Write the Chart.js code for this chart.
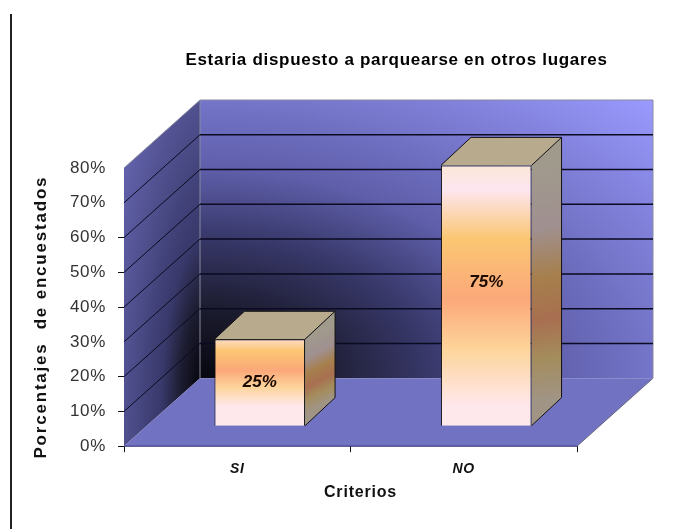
<!DOCTYPE html>
<html>
<head>
<meta charset="utf-8">
<style>
  html, body { margin: 0; background: #fff; }
  #wrap { position: relative; width: 680px; height: 529px; overflow: hidden; }
  #chart { filter: blur(0.6px); }
  #rule { position: absolute; left: 10px; top: 14px; bottom: 0; width: 2px; background: #222; }
</style>
<script src="https://cdn.jsdelivr.net/npm/chart.js@4"></script>
</head>
<body>
<div id="wrap">
  <canvas id="chart" width="680" height="529"></canvas>
  <div id="rule"></div>
</div>
<script>
const categories = ['SI', 'NO'];
const percentages = [25, 75];
const tickLabels = ['0%', '10%', '20%', '30%', '40%', '50%', '60%', '70%', '80%'];
const chartTitle = 'Estaria dispuesto a parquearse en otros lugares';
const yTitle = 'Porcentajes  de encuestados';
const xTitle = 'Criterios';

// box depth of the fake 3D scene
const wallDepth = { x: 76, y: -68 };
const barShift = { x: 22.5, y: -20 };
const barDepth = { x: 30, y: -28 };
// these tick marks are lost in the original
const noTickMark = [30, 70, 80];
// the NO label sits above the middle of its bar in the original
const labelLift = [0, 13];

const polygon = (ctx, pts, fill) => {
  ctx.beginPath();
  pts.forEach((p, i) => i ? ctx.lineTo(p[0], p[1]) : ctx.moveTo(p[0], p[1]));
  ctx.closePath();
  ctx.fillStyle = fill;
  ctx.fill();
};

const gradient = (ctx, x0, y0, x1, y1, stops) => {
  const g = ctx.createLinearGradient(x0, y0, x1, y1);
  stops.forEach(s => g.addColorStop(s[0], s[1]));
  return g;
};

// corner gradient from the dark back corner, filled in a unit square
const cornerFill = (ctx, m, stops) => {
  const g = ctx.createRadialGradient(0, 0, 0, 0, 0, Math.SQRT2);
  stops.forEach(s => g.addColorStop(s[0], s[1]));
  ctx.save();
  ctx.transform(m[0], m[1], m[2], m[3], m[4], m[5]);
  polygon(ctx, [[0, 0], [1, 0], [1, 1], [0, 1]], g);
  ctx.restore();
};

// walls, floor and gridlines
const scenePlugin = {
  id: 'scene',
  beforeDraw(chart) {
    chart.ctx.letterSpacing = '0.7px';
  },
  beforeDatasetsDraw(chart) {
    const { ctx, chartArea: a, scales: { y } } = chart;
    const dx = wallDepth.x, dy = wallDepth.y;
    const base = y.getPixelForValue(0);
    const top = y.getPixelForValue(80);
    const cornerX = a.left + dx, cornerY = base + dy;
    ctx.save();
    // back wall
    cornerFill(ctx, [a.right - a.left, 0, 0, top - base, cornerX, cornerY],
      [[0, '#07070f'], [0.18, '#1c1c30'], [0.36, '#38386a'], [0.53, '#5e5eaa'], [0.7, '#7474c8'], [1, '#9a9aff']]);
    // left wall
    cornerFill(ctx, [-dx, -dy, 0, top - base, cornerX, cornerY],
      [[0, '#07070f'], [0.18, '#1c1c30'], [0.36, '#38386a'], [0.7, '#50508f'], [1, '#6262ac']]);
    // wall edges
    ctx.strokeStyle = '#8a8aa0';
    ctx.lineWidth = 1;
    ctx.beginPath();
    ctx.moveTo(a.left, top);
    ctx.lineTo(a.left + dx, top + dy);
    ctx.lineTo(a.right + dx, top + dy);
    ctx.lineTo(a.right + dx, base + dy);
    ctx.moveTo(a.left + dx, top + dy);
    ctx.lineTo(a.left + dx, base + dy);
    ctx.stroke();
    // gridlines run along the left wall then the back wall
    y.ticks.forEach(t => {
      if (t.value === 0 || t.value === 80) return;
      const py = y.getPixelForValue(t.value);
      ctx.strokeStyle = '#0a0a20';
      ctx.lineWidth = 1;
      ctx.beginPath();
      ctx.moveTo(a.left, py);
      ctx.lineTo(a.left + dx, py + dy);
      ctx.stroke();
      ctx.lineWidth = 1.5;
      ctx.beginPath();
      ctx.moveTo(a.left + dx, py + dy);
      ctx.lineTo(a.right + dx, py + dy);
      ctx.stroke();
    });
    // floor
    polygon(ctx, [[a.left, base], [a.right, base], [a.right + dx, base + dy], [a.left + dx, base + dy]], '#7272c2');
    ctx.strokeStyle = '#6a6a80';
    ctx.lineWidth = 1;
    ctx.beginPath();
    ctx.moveTo(a.right, base);
    ctx.lineTo(a.right + dx, base + dy);
    ctx.stroke();
    ctx.strokeStyle = '#2c2c70';
    ctx.beginPath();
    ctx.moveTo(a.left, base);
    ctx.lineTo(a.right, base);
    ctx.stroke();
    ctx.restore();
  },
  // side and top faces of each bar, then shift the front face into the scene
  beforeDatasetDraw(chart, args) {
    const ctx = chart.ctx;
    args.meta.data.forEach(bar => {
      const p = bar.getProps(['x', 'y', 'base', 'width'], true);
      const l = p.x - p.width / 2 + barShift.x;
      const r = p.x + p.width / 2 + barShift.x;
      const t = p.y + barShift.y;
      const b = p.base + barShift.y;
      const dx = barDepth.x, dy = barDepth.y;
      polygon(ctx, [[r, t], [r + dx, t + dy], [r + dx, b + dy], [r, b]],
        gradient(ctx, r, t, r + dx, b + dy, [[0, '#a09a8c'], [0.27, '#a09090'], [0.48, '#a67f4c'], [0.66, '#a86f50'], [0.82, '#a48c5c'], [1, '#a09484']]));
      polygon(ctx, [[l, t], [l + dx, t + dy], [r + dx, t + dy], [r, t]], '#b8aa8c');
      ctx.strokeStyle = '#111';
      ctx.lineWidth = 1;
      ctx.beginPath();
      ctx.moveTo(l, t);
      ctx.lineTo(l + dx, t + dy);
      ctx.lineTo(r + dx, t + dy);
      ctx.lineTo(r, t);
      ctx.moveTo(r + dx, t + dy);
      ctx.lineTo(r + dx, b + dy);
      ctx.lineTo(r, b);
      ctx.stroke();
    });
    ctx.save();
    ctx.translate(barShift.x, barShift.y);
  },
  afterDatasetDraw(chart, args) {
    const ctx = chart.ctx;
    ctx.restore();
    // value labels
    ctx.save();
    ctx.letterSpacing = '0px';
    ctx.font = 'italic bold 17px "Liberation Sans"';
    ctx.fillStyle = '#1a0a00';
    ctx.textAlign = 'center';
    ctx.textBaseline = 'middle';
    args.meta.data.forEach((bar, i) => {
      const p = bar.getProps(['x', 'y', 'base'], true);
      ctx.fillText(percentages[i] + '%', p.x + barShift.x, (p.y + p.base) / 2 + barShift.y - labelLift[i]);
    });
    ctx.restore();
  },
  // axis titles sit off centre in the original, so they are placed by hand
  afterDraw(chart) {
    const { ctx, chartArea: a } = chart;
    ctx.save();
    ctx.fillStyle = '#111';
    ctx.textAlign = 'center';
    ctx.textBaseline = 'middle';
    ctx.font = 'bold 16px "Liberation Sans"';
    ctx.letterSpacing = '0.8px';
    ctx.fillText(xTitle, (a.left + a.right) / 2 + 10, a.bottom + 46);
    ctx.font = 'bold 17px "Liberation Sans"';
    ctx.letterSpacing = '1.8px';
    ctx.translate(41, (a.top + a.bottom) / 2 + 10);
    ctx.rotate(-Math.PI / 2);
    ctx.fillText(yTitle, 0, 0);
    ctx.restore();
  },
  afterLayout(chart) {
    // the title is centred over the back wall, not the plot
    const box = chart.titleBlock;
    box.left += 108;
    box.right += 108;
  }
};

new Chart('chart', {
  type: 'bar',
  data: {
    labels: categories,
    datasets: [{
      data: percentages,
      barPercentage: 0.4,
      categoryPercentage: 1,
      clip: false,
      borderColor: '#111',
      borderWidth: 1,
      backgroundColor: c => {
        const { ctx, scales: { y } } = c.chart;
        const py = y ? y.getPixelForValue(c.raw) : NaN;
        if (!isFinite(py)) return '#fbc672';
        return gradient(ctx, 0, py + barShift.y, 0, y.getPixelForValue(0) + barShift.y,
          [[0, '#fbe9c4'], [0.17, '#fde6f0'], [0.36, '#fbc672'], [0.59, '#fba87a'], [0.78, '#fdd49a'], [1, '#ffe8ec']]);
      }
    }]
  },
  options: {
    responsive: false,
    animation: false,
    layout: { padding: { right: 103, bottom: 42 } },
    plugins: {
      legend: { display: false },
      tooltip: { enabled: false },
      title: {
        display: true,
        text: chartTitle,
        color: '#000',
        font: { family: '"Liberation Sans"', size: 17, weight: 'bold' },
        padding: { top: 50, bottom: 97.6 }
      }
    },
    scales: {
      x: {
        grid: { drawOnChartArea: false, color: '#111', tickLength: 6 },
        border: { display: false },
        ticks: { color: '#111', padding: 9, maxRotation: 0, font: { family: '"Liberation Sans"', size: 14, weight: 'bold', style: 'italic' } }
      },
      y: {
        min: 0,
        max: 80,
        afterFit: s => { s.width = 124; },
        grid: { drawOnChartArea: false, tickLength: 6, tickColor: c => noTickMark.includes(c.tick.value) ? 'transparent' : '#111' },
        border: { display: false },
        ticks: { stepSize: 10, color: '#333', padding: 12, font: { family: '"Liberation Sans"', size: 17 }, callback: (v, i) => tickLabels[i] }
      }
    }
  },
  plugins: [scenePlugin]
});
</script>
</body>
</html>
